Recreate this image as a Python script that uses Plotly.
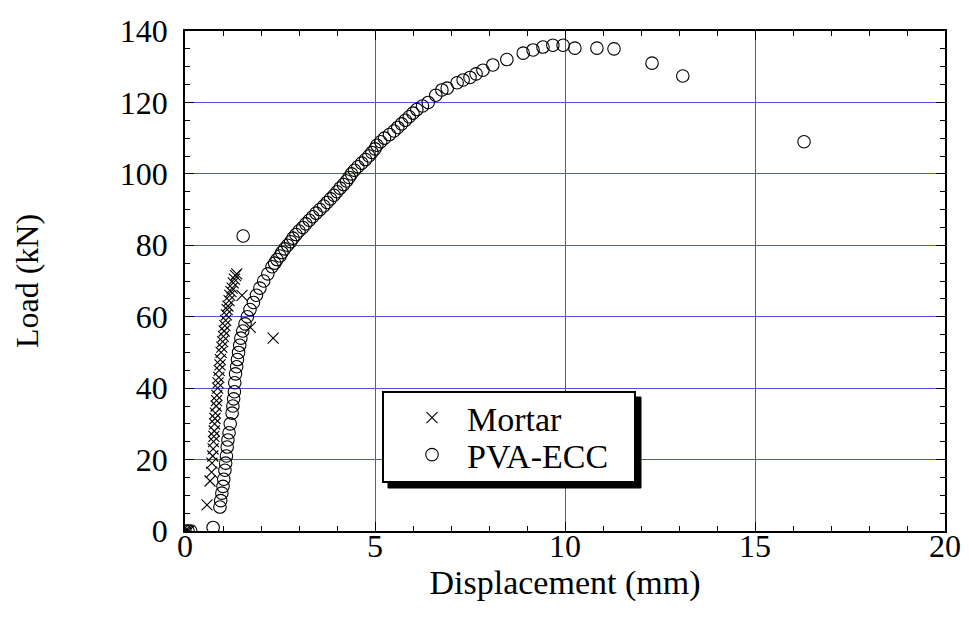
import plotly.graph_objects as go

# ---- data ----
mortar_x = [0.0, 0.05, 0.10, 0.58, 0.66, 0.70, 0.71, 0.73, 0.74, 0.75, 0.76, 0.77, 0.78,
            0.79, 0.80, 0.82, 0.83, 0.84, 0.86, 0.87, 0.89, 0.90, 0.92, 0.93, 0.95,
            0.97, 0.99, 1.01, 1.03, 1.05, 1.07, 1.09, 1.11, 1.13, 1.16, 1.18, 1.21,
            1.24, 1.27, 1.30, 1.33, 1.36, 1.50, 1.72, 2.32]
mortar_y = [0.0, 0.0, 0.0, 7.3, 14.0, 16.5, 19.0, 21.0, 23.0, 25.0, 26.5, 28.0, 30.0,
            31.5, 33.0, 35.0, 36.5, 38.0, 40.0, 41.5, 43.0, 45.0, 46.5, 48.0, 50.0,
            51.5, 53.0, 54.5, 56.0, 57.5, 59.0, 60.5, 62.0, 63.0, 64.5, 66.0, 67.0,
            68.0, 69.5, 70.5, 71.5, 72.0, 66.0, 57.0, 54.0]

ecc_x = [0.0, 0.08, 0.15, 0.74, 0.92, 0.94, 0.97, 1.00, 1.02, 1.05, 1.07, 1.09, 1.11,
         1.13, 1.16, 1.19, 1.24, 1.26, 1.28, 1.30, 1.31, 1.33, 1.36, 1.38, 1.41,
         1.44, 1.47, 1.52, 1.53, 1.58, 1.64, 1.71, 1.80, 1.88, 1.97, 2.07, 2.18, 2.29,
         2.36, 2.42, 2.50, 2.55, 2.62, 2.70, 2.78, 2.84, 2.92, 3.00, 3.10, 3.18,
         3.27, 3.36, 3.45, 3.55, 3.65, 3.74, 3.83, 3.92, 4.00, 4.08, 4.17, 4.25,
         4.32, 4.38, 4.46, 4.55, 4.65, 4.75, 4.84, 4.92, 5.00, 5.05, 5.15, 5.25,
         5.38, 5.50, 5.60, 5.70, 5.80, 5.90, 6.00, 6.10, 6.25, 6.40, 6.60, 6.76,
         6.90, 7.16, 7.32, 7.50, 7.66, 7.84, 8.10, 8.47, 8.90, 9.16, 9.42, 9.68,
         9.95, 10.26, 10.84, 11.29, 12.29, 13.10, 16.29]
ecc_y = [0.0, 0.0, 0.0, 1.0, 6.7, 8.5, 10.6, 12.5, 14.5, 17.0, 19.0, 21.0, 23.5,
         25.5, 27.5, 30.0, 33.0, 35.0, 37.0, 39.0, 41.5, 44.0, 46.0, 48.0, 50.0,
         52.0, 54.0, 56.0, 82.6, 58.0, 60.0, 62.0, 64.0, 66.0, 68.0, 70.0, 72.0, 74.0,
         75.0, 76.0, 77.0, 78.0, 79.0, 80.0, 81.0, 82.0, 83.0, 84.0, 85.0, 86.0,
         87.0, 88.0, 89.0, 90.0, 91.0, 92.0, 93.0, 94.0, 95.0, 96.0, 97.0, 98.0,
         99.0, 100.0, 101.0, 102.0, 103.0, 104.0, 105.0, 106.0, 107.0, 108.0, 109.0, 110.0,
         111.0, 112.0, 113.0, 114.0, 115.0, 116.0, 117.0, 118.0, 119.0, 120.0, 122.0, 123.5,
         124.0, 125.5, 126.3, 127.0, 128.0, 129.0, 130.5, 132.0, 133.8, 134.7, 135.5, 136.0,
         136.0, 135.2, 135.2, 135.0, 131.0, 127.4, 109.0]

x_ticks = [0, 5, 10, 15, 20]
y_ticks = [0, 20, 40, 60, 80, 100, 120, 140]

FONT = "Liberation Serif"
GRID = "rgb(80,80,230)"

fig = go.Figure()
fig.add_trace(go.Scatter(
    x=mortar_x, y=mortar_y, mode="markers", name="Mortar", legend="legend",
    marker=dict(symbol="x-thin", size=11, color="rgba(0,0,0,0)",
                line=dict(color="black", width=1.1)),
))
fig.add_trace(go.Scatter(
    x=ecc_x, y=ecc_y, mode="markers", name="PVA-ECC", legend="legend2",
    marker=dict(symbol="circle-open", size=12.5, color="black",
                line=dict(color="black", width=1.1)),
))

axis_common = dict(
    showline=True, linecolor="black", linewidth=1.5, mirror="ticks",
    ticks="inside", ticklen=9, tickcolor="black", tickwidth=1,
    showgrid=True, gridcolor=GRID, gridwidth=1, zeroline=False,
    tickfont=dict(family=FONT, size=32, color="black"),
    automargin=False,
)

fig.update_xaxes(
    range=[0, 20], tickvals=x_ticks, ticktext=[str(v) for v in x_ticks],
    minor=dict(dtick=1, ticks="inside", ticklen=5, tickcolor="black", showgrid=False),
    title=dict(text="Displacement (mm)", font=dict(family=FONT, size=34, color="black"),
               standoff=0),
    ticklabelstandoff=-14,
    **axis_common,
)
fig.update_yaxes(
    range=[0, 140], tickvals=y_ticks, ticktext=[str(v) for v in y_ticks],
    minor=dict(dtick=5, ticks="inside", ticklen=5, tickcolor="black", showgrid=False),
    title=dict(text="Load (kN)", font=dict(family=FONT, size=32, color="black"),
               standoff=72),
    ticklabelstandoff=9,
    **axis_common,
)

# figure geometry (page is offset by 8 px body margin)
W, H = 953, 608
OFF = 8
ml, mt = 185 - OFF, 31 - OFF
pw, ph = 760, 500
mr, mb = W - ml - pw, H - mt - ph

def px2paper(xp, yp):
    # xp, yp in page pixels
    return (xp - OFF - ml) / pw, 1 - (yp - OFF - mt) / ph

# legend box with drop shadow
bx0, by0 = px2paper(383, 392)
bx1, by1 = px2paper(635, 482)
sx0, sy0 = px2paper(388, 397)
sx1, sy1 = px2paper(641, 488)
fig.add_shape(type="rect", xref="paper", yref="paper", x0=sx0, y0=sy0, x1=sx1, y1=sy1,
              fillcolor="black", line=dict(color="black", width=1), layer="above")
fig.add_shape(type="rect", xref="paper", yref="paper", x0=bx0, y0=by0, x1=bx1, y1=by1,
              fillcolor="white", line=dict(color="black", width=2), layer="above")

l1x, l1y = px2paper(397, 418)
l2x, l2y = px2paper(397, 455)
leg_common = dict(xanchor="left", yanchor="middle", bgcolor="rgba(0,0,0,0)",
                  borderwidth=0, font=dict(family=FONT, size=34, color="black"),
                  itemwidth=60)
fig.update_layout(
    width=W, height=H,
    margin=dict(l=ml, r=mr, t=mt, b=mb, autoexpand=False),
    plot_bgcolor="white", paper_bgcolor="white",
    font=dict(family=FONT, size=32, color="black"),
    showlegend=True,
    legend=dict(x=l1x, y=l1y, **leg_common),
    legend2=dict(x=l2x, y=l2y, **leg_common),
)

fig.write_html("out.html")
